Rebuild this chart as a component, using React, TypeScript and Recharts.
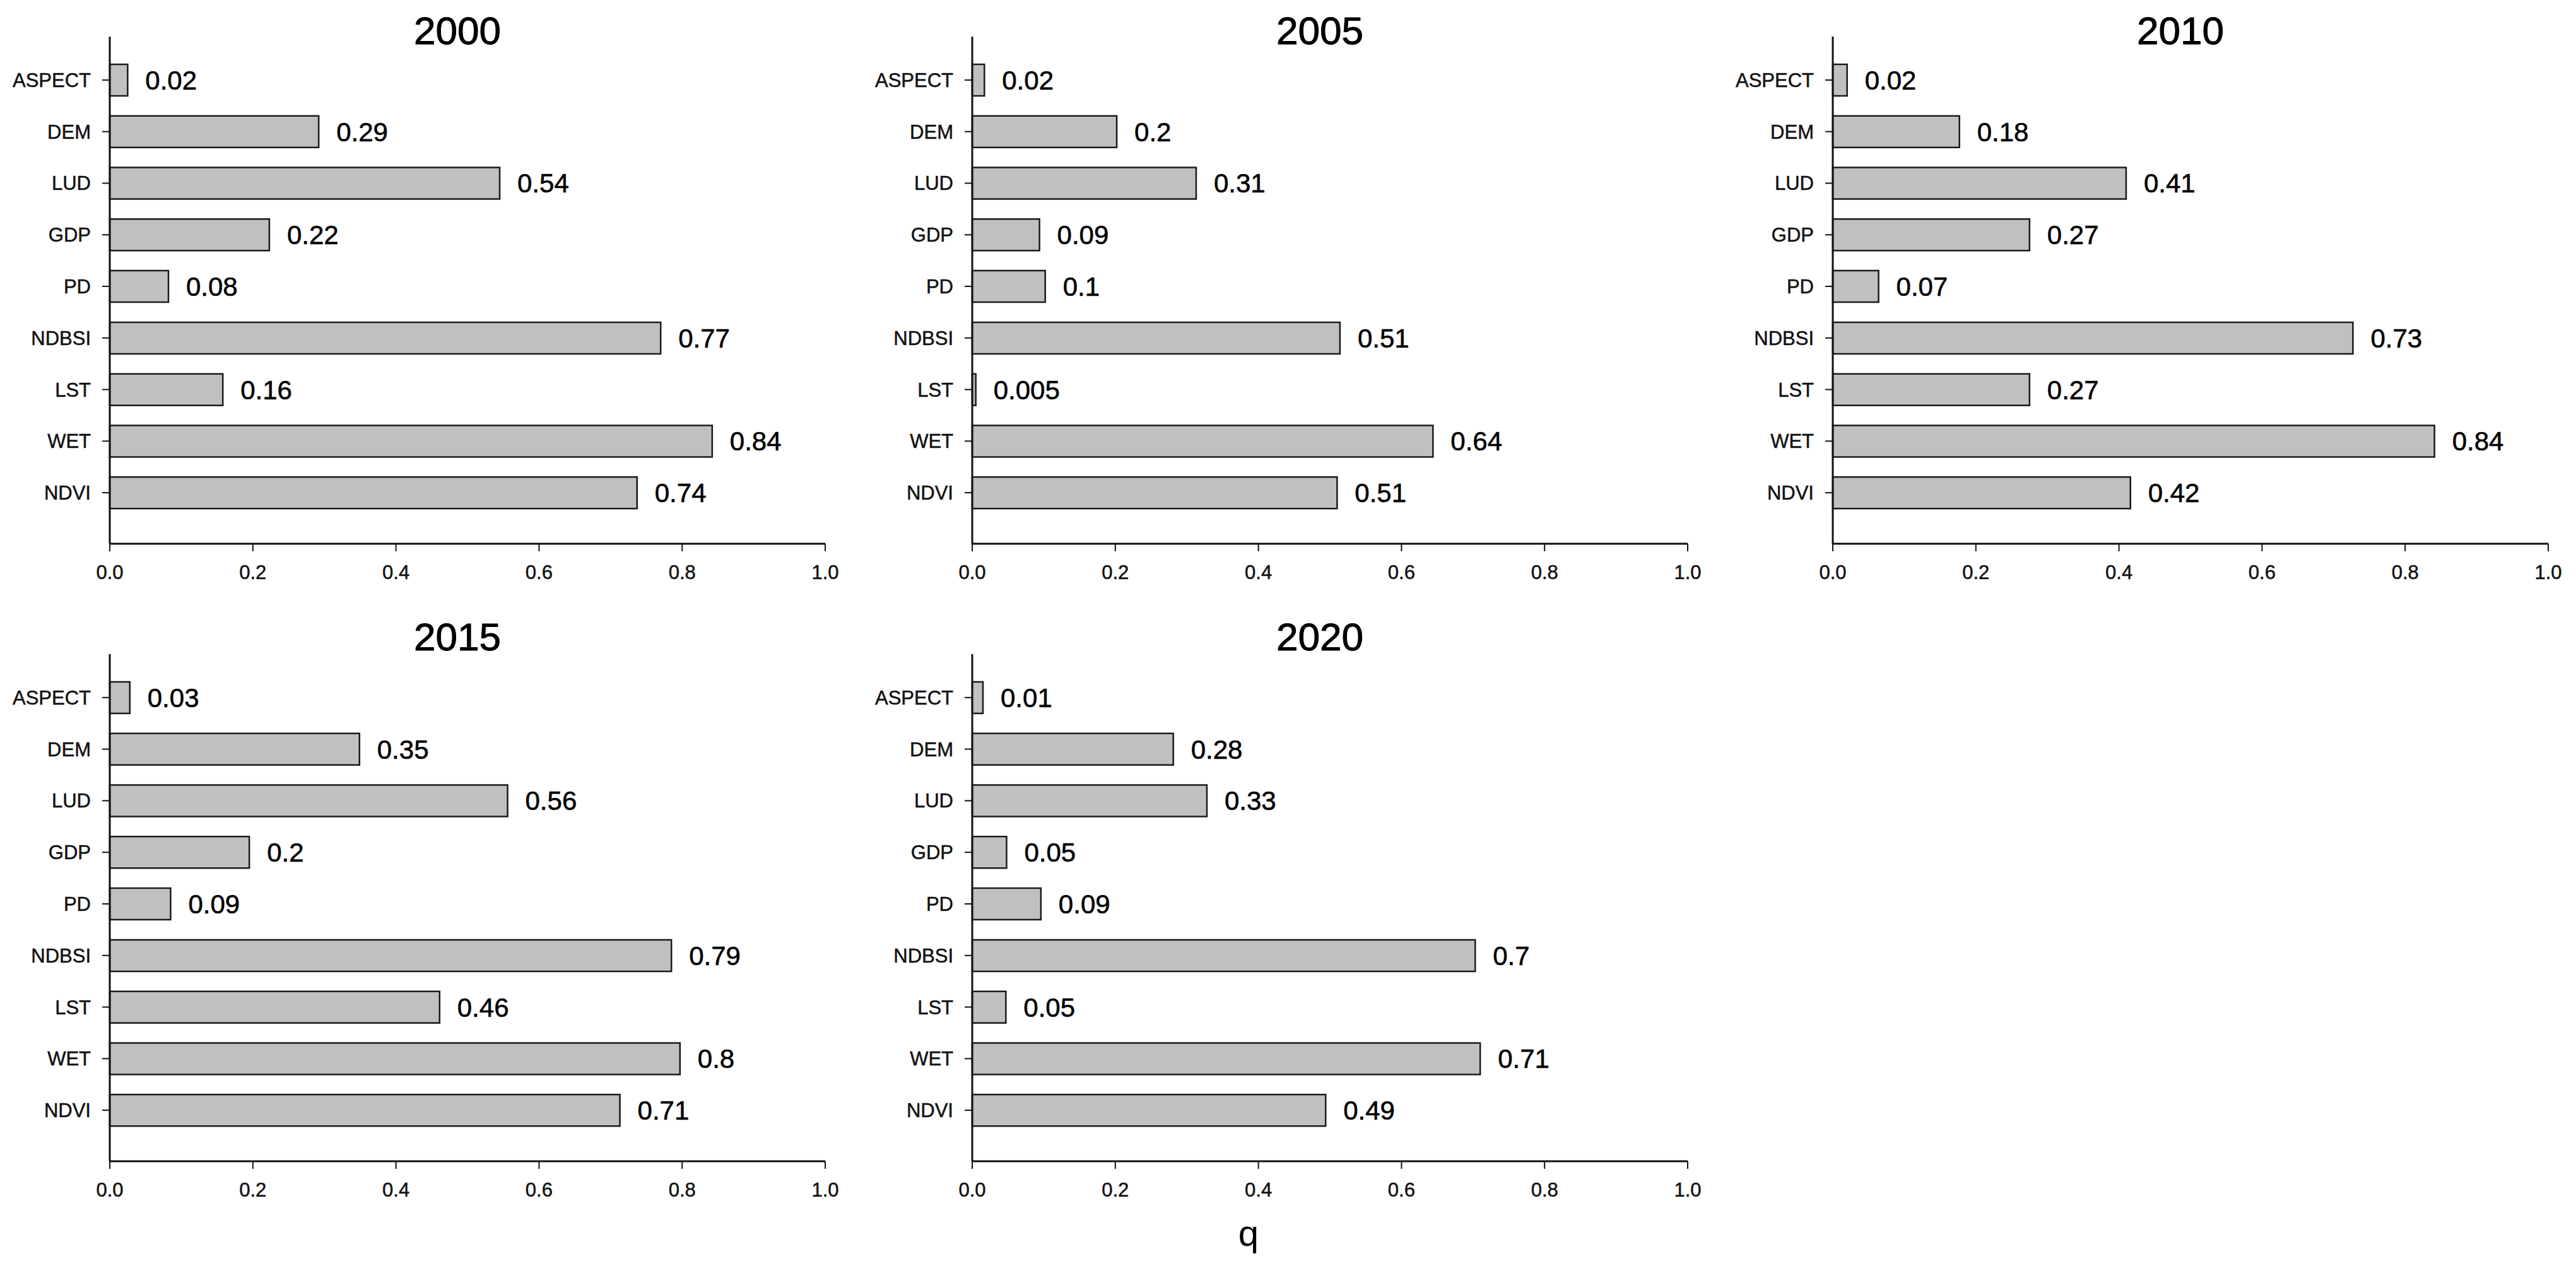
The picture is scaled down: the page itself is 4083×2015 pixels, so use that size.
import { Bar, BarChart, XAxis, YAxis, LabelList } from 'recharts'

const factors = ['ASPECT', 'DEM', 'LUD', 'GDP', 'PD', 'NDBSI', 'LST', 'WET', 'NDVI']
const xTicks = [0, 0.2, 0.4, 0.6, 0.8, 1.0]

// bar lengths, labels as printed
const q2000 = [0.025, 0.292, 0.545, 0.223, 0.082, 0.77, 0.158, 0.842, 0.737]
const labels2000 = ['0.02', '0.29', '0.54', '0.22', '0.08', '0.77', '0.16', '0.84', '0.74']

const q2005 = [0.017, 0.202, 0.313, 0.094, 0.102, 0.514, 0.005, 0.644, 0.51]
const labels2005 = ['0.02', '0.2', '0.31', '0.09', '0.1', '0.51', '0.005', '0.64', '0.51']

const q2010 = [0.02, 0.177, 0.41, 0.275, 0.064, 0.727, 0.275, 0.841, 0.416]
const labels2010 = ['0.02', '0.18', '0.41', '0.27', '0.07', '0.73', '0.27', '0.84', '0.42']

const q2015 = [0.028, 0.349, 0.556, 0.195, 0.085, 0.785, 0.461, 0.797, 0.713]
const labels2015 = ['0.03', '0.35', '0.56', '0.2', '0.09', '0.79', '0.46', '0.8', '0.71']

const q2020 = [0.015, 0.281, 0.328, 0.048, 0.096, 0.703, 0.047, 0.71, 0.494]
const labels2020 = ['0.01', '0.28', '0.33', '0.05', '0.09', '0.7', '0.05', '0.71', '0.49']

const FONT = '"Liberation Sans", Arial, sans-serif'
const YAXIS_W = 174
const PLOT_W = 1134
const PLOT_H = 804
const TOP = 10
const XAXIS_H = 80
const RIGHT = 40

const colX = [174, 1541, 2905]
const rowTop = [58, 1037]
const titleBase = [70, 1031]

const panels = [
  { title: '2000', values: q2000, labels: labels2000, col: 0, row: 0 },
  { title: '2005', values: q2005, labels: labels2005, col: 1, row: 0 },
  { title: '2010', values: q2010, labels: labels2010, col: 2, row: 0 },
  { title: '2015', values: q2015, labels: labels2015, col: 0, row: 1 },
  { title: '2020', values: q2020, labels: labels2020, col: 1, row: 1 },
]

const tickStyle = { fill: '#111', fontSize: 31, fontFamily: FONT, stroke: '#111', strokeWidth: 0.5 }

function Panel({ values, labels }: { values: number[]; labels: string[] }) {
  const data = factors.map((name, i) => ({ name, q: values[i], label: labels[i] }))
  return (
    <BarChart
      width={YAXIS_W + PLOT_W + RIGHT}
      height={TOP + PLOT_H + XAXIS_H}
      data={data}
      layout="vertical"
      margin={{ top: TOP, right: RIGHT, bottom: 0, left: 0 }}
    >
      <XAxis
        type="number"
        domain={[0, 1]}
        ticks={xTicks}
        interval={0}
        height={XAXIS_H}
        tickFormatter={(v: number) => v.toFixed(1)}
        axisLine={{ stroke: '#111', strokeWidth: 3 }}
        tickLine={{ stroke: '#111', strokeWidth: 2 }}
        tickSize={12}
        tickMargin={22}
        tick={tickStyle}
      />
      <YAxis
        type="category"
        dataKey="name"
        width={YAXIS_W}
        padding={{ top: 28, bottom: 40 }}
        axisLine={{ stroke: '#111', strokeWidth: 3 }}
        tickLine={{ stroke: '#111', strokeWidth: 2 }}
        tickSize={12}
        tickMargin={18}
        interval={0}
        tick={tickStyle}
      />
      <Bar
        dataKey="q"
        fill="#c0c0c0"
        stroke="#1a1a1a"
        strokeWidth={2.5}
        barSize={50}
        isAnimationActive={false}
      >
        <LabelList
          dataKey="label"
          position="right"
          offset={28}
          fill="#000"
          stroke="#000"
          strokeWidth={0.6}
          fontSize={42}
          fontFamily={FONT}
        />
      </Bar>
    </BarChart>
  )
}

export default function App() {
  return (
    <div
      style={{
        position: 'absolute',
        left: 0,
        top: 0,
        width: 4083,
        height: 2015,
        background: '#fff',
        overflow: 'hidden',
      }}
    >
      {panels.map((p) => (
        <div
          key={p.title}
          style={{
            position: 'absolute',
            left: colX[p.col] - YAXIS_W,
            top: rowTop[p.row] - TOP,
          }}
        >
          <Panel values={p.values} labels={p.labels} />
        </div>
      ))}
      <svg
        width={4083}
        height={2015}
        style={{ position: 'absolute', left: 0, top: 0, pointerEvents: 'none' }}
      >
        {panels.map((p) => (
          <text
            key={p.title}
            x={colX[p.col] + PLOT_W / 2 - 16}
            y={titleBase[p.row]}
            textAnchor="middle"
            fontSize={62}
            fontFamily={FONT}
            fill="#000"
            stroke="#000"
            strokeWidth={1}
          >
            {p.title}
          </text>
        ))}
        <text x={1979} y={1975} textAnchor="middle" fontSize={58} fontFamily={FONT} fill="#000">
          q
        </text>
      </svg>
    </div>
  )
}
